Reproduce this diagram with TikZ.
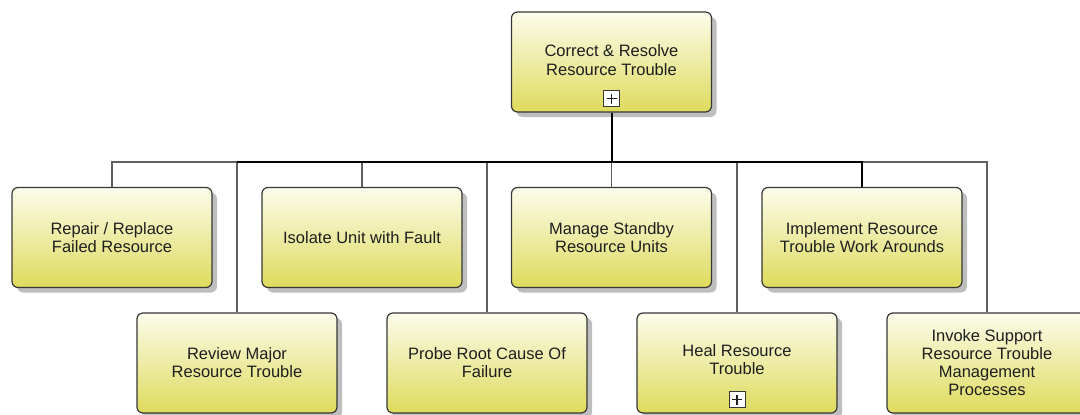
\documentclass[tikz,border=0pt]{standalone}
\usepackage{fontspec}
\setmainfont{Liberation Sans}
\usetikzlibrary{shadows}
\definecolor{boxedge}{RGB}{55,55,55}
\definecolor{boxtop}{RGB}{252,252,236}
\definecolor{boxmid}{RGB}{242,241,178}
\definecolor{boxbottom}{RGB}{222,219,92}
\definecolor{shadowgray}{RGB}{190,190,190}
\definecolor{wiregray}{RGB}{95,95,95}
\definecolor{inkdark}{RGB}{30,30,30}
\tikzset{
  task/.style={draw=boxedge, line width=1.2pt, rounded corners=6pt,
    minimum width=200pt, minimum height=100pt, inner sep=0pt,
    top color=boxtop, middle color=boxmid, bottom color=boxbottom,
    drop shadow={shadow xshift=5pt, shadow yshift=-5pt, fill=shadowgray, opacity=1},
    align=center, text=inkdark, font=\fontsize{16.5}{18}\selectfont},
  tasklabel/.style={align=center, text=inkdark, font=\fontsize{16.5}{19.5}\selectfont, inner sep=0pt},
  plusbox/.style={draw=boxedge, line width=1pt, fill=white, minimum size=16pt,
    inner sep=0pt,
    path picture={
      \draw[line width=1.3pt, inkdark]
        ([xshift=-5pt]path picture bounding box.center) -- ([xshift=5pt]path picture bounding box.center)
        ([yshift=-5pt]path picture bounding box.center) -- ([yshift=5pt]path picture bounding box.center);
    }},
  thinwire/.style={draw=wiregray, line width=1.2pt},
  thickwire/.style={draw=black, line width=2pt}
}
\begin{document}
\begin{tikzpicture}[x=1pt,y=1pt]
\useasboundingbox (0,0) rectangle (1080,-415);

% parent process (label placed separately above the expand marker)
\node[task] (root) at (611.5,-62) {};
\node[tasklabel] (rootlabel) at ([yshift=2pt]root.center) {Correct \& Resolve\\Resource Trouble};
\node[plusbox] (rootplus) at ([yshift=14pt]root.south) {};

% first row of sub-processes
\node[task] (c1) at (112,-237.5) {Repair / Replace\\Failed Resource};
\node[task] (c2) at (362,-237.5) {Isolate Unit with Fault};
\node[task] (c3) at (611.5,-237.5) {Manage Standby\\Resource Units};
\node[task] (c4) at (862,-237.5) {Implement Resource\\Trouble Work Arounds};

% second row of sub-processes
\node[task] (c5) at (237,-363) {Review Major\\Resource Trouble};
\node[task] (c6) at (487,-363) {Probe Root Cause Of\\Failure};
\node[task] (c7) at (737,-363) {};
\node[tasklabel, font=\fontsize{16.5}{18}\selectfont] (c7label) at ([yshift=3pt]c7.center) {Heal Resource\\Trouble};
\node[plusbox] (c7plus) at ([yshift=14pt]c7.south) {};
\node[task] (c8) at (987,-363) {Invoke Support\\Resource Trouble\\Management\\Processes};

% bus junction under the parent
\coordinate (hub) at (611.5,-162);

% connectors
\foreach \n in {c1,c2,c3,c4,c5,c6,c7,c8}
  \draw[thinwire] (\n.north) |- (hub);
\draw[thickwire] (root.south) -- (hub);
\draw[thickwire] (c4.north) |- (c5.north |- hub);
\end{tikzpicture}
\end{document}
